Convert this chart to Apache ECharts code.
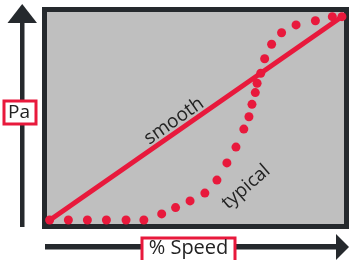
<!DOCTYPE html>
<html>
<head>
<meta charset="utf-8">
<script src="https://cdn.jsdelivr.net/npm/echarts@6/dist/echarts.min.js"></script>
<style>
  html, body { margin: 0; padding: 0; background: #fff; }
  #chart { width: 349px; height: 260px; }
</style>
</head>
<body>
<div id="chart"></div>
<script>
// ============ data ============
const smoothLine = [[1.8, 3.0], [98.8, 97.0]]
const typicalX = [1.7, 7.9, 14.2, 20.5, 27.0, 32.9, 38.8, 43.4, 48.2, 53.1, 57.1, 60.4, 63.4,
  66.0, 67.7, 68.7, 69.8, 70.4, 71.6, 72.9, 75.2, 78.5, 83.3, 89.7, 95.3, 98.5]
const typicalY = [3.0, 3.0, 3.0, 3.0, 3.0, 3.0, 5.8, 8.7, 11.8, 15.4, 21.4, 29.3, 36.6,
  44.9, 50.6, 56.3, 61.7, 66.0, 70.6, 77.3, 84.0, 89.3, 92.9, 94.8, 96.7, 96.7]
const xTitle = '% Speed'
const yTitle = 'Pa'

const RED = '#e8193c'
const DARK = '#25292d'
const FONT = '"Open Sans", "Noto Sans", sans-serif'

const chart = echarts.init(document.getElementById('chart'))
const deg = (d) => d * Math.PI / 180

chart.setOption({
  animation: false,
  grid: {
    left: 44.5, right: 2.5, top: 9.5, bottom: 33.5,
    show: true,
    backgroundColor: '#bfbfbf',
    borderColor: DARK,
    borderWidth: 5
  },
  xAxis: { type: 'value', min: 0, max: 100, show: false },
  yAxis: { type: 'value', min: 0, max: 100, show: false },
  series: [
    {
      name: 'smooth',
      type: 'line',
      data: smoothLine,
      symbol: 'none',
      lineStyle: { color: RED, width: 5 }
    },
    {
      name: 'typical',
      type: 'scatter',
      data: typicalX.map((x, i) => [x, typicalY[i]]),
      symbolSize: 9,
      itemStyle: { color: RED, opacity: 1 }
    }
  ],
  graphic: [
    // y arrow
    { type: 'rect', shape: { x: 20, y: 20, width: 4.5, height: 207 }, style: { fill: DARK } },
    { type: 'polygon', shape: { points: [[22.2, 4], [37, 23], [7.5, 23]] }, style: { fill: DARK } },
    // x arrow
    { type: 'rect', shape: { x: 45, y: 244, width: 293, height: 5.5 }, style: { fill: DARK } },
    { type: 'polygon', shape: { points: [[336, 234], [349, 247], [336, 260]] }, style: { fill: DARK } },
    // axis title boxes
    { type: 'rect', z: 10, shape: { x: 4, y: 101, width: 32, height: 23 }, style: { fill: '#fff', stroke: RED, lineWidth: 3 } },
    { type: 'text', z: 11, x: 8, y: 113, style: { text: yTitle, font: '19px ' + FONT, fill: '#222', verticalAlign: 'middle' } },
    { type: 'rect', z: 10, shape: { x: 142, y: 238, width: 93, height: 26 }, style: { fill: '#fff', stroke: RED, lineWidth: 3 } },
    { type: 'text', z: 11, x: 188.5, y: 248, style: { text: xTitle, font: '20px ' + FONT, fill: '#222', align: 'center', verticalAlign: 'middle' } },
    // series labels
    { type: 'text', z: 11, x: 174, y: 121, rotation: deg(35), style: { text: 'smooth', font: '19px ' + FONT, fill: '#222', align: 'center', verticalAlign: 'middle' } },
    { type: 'text', z: 11, x: 246, y: 187, rotation: deg(41), style: { text: 'typical', font: '19px ' + FONT, fill: '#222', align: 'center', verticalAlign: 'middle' } }
  ]
})
</script>
</body>
</html>
